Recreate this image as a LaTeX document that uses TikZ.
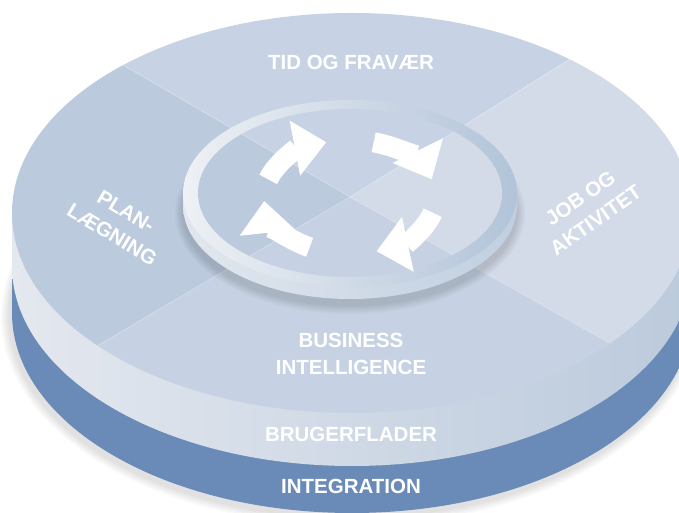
\documentclass[tikz,border=0pt]{standalone}
\usepackage{fontspec}
\setmainfont{Liberation Sans}
\usetikzlibrary{arrows.meta}
\definecolor{qtop}{HTML}{C7D3E4}
\definecolor{qleft}{HTML}{BBCADD}
\definecolor{qright}{HTML}{D3DBE8}
\definecolor{qbot}{HTML}{C6D2E3}
\definecolor{integblue}{HTML}{6A8BB8}
\definecolor{bandl}{HTML}{E4E8EF}
\definecolor{bandm}{HTML}{D3DBE6}
\definecolor{bandr}{HTML}{BBCADC}
\definecolor{riml}{HTML}{EEF1F5}
\definecolor{rimm}{HTML}{CFDAE6}
\definecolor{rimr}{HTML}{B2C4D9}
\definecolor{sidel}{HTML}{E2E7EE}
\definecolor{sider}{HTML}{C0CFE0}
% the four quadrants of the top face, meeting in (x)
\newcommand\quadfill{%
  \fill[qtop] (x) -- (-104,580) -- (784,588) -- cycle;
  \fill[qright] (x) -- (784,588) -- (858,30) -- cycle;
  \fill[qbot] (x) -- (858,30) -- (-146,24) -- cycle;
  \fill[qleft] (x) -- (-146,24) -- (-104,580) -- cycle;
  \draw[white,opacity=.35,line width=.6pt] (x) -- (-104,580) (x) -- (784,588)
    (x) -- (858,30) (x) -- (-146,24);}

\begin{document}
\begin{tikzpicture}[x=1pt,y=1pt,
  lbl/.style={text=white,font=\bfseries\fontsize{20.5}{27}\selectfont,align=center,inner sep=0pt},
  turn/.style={white,line width=20pt,-{Triangle[width=54pt,length=32pt]}}]
  \useasboundingbox (0,0) rectangle (679,513);
  \coordinate (x) at (350,316);
  % soft shadow under the disk
  \foreach \s in {1,...,6}
    \fill[black,opacity=0.02] (350,196) ellipse ({340+\s*1.5} and {200+\s*1.5});
  % integration layer
  \fill[integblue] (12,200) -- (12,247) -- (692,247) -- (692,200)
    arc[start angle=0,end angle=-180,x radius=340,y radius=200] -- cycle;
  % brugerflader layer
  \shade[left color=bandl,middle color=bandm,right color=bandr] (12,247) -- (12,300) -- (692,300) -- (692,247)
    arc[start angle=0,end angle=-180,x radius=340,y radius=200] -- cycle;
  % top face
  \begin{scope}
    \clip (352,300) ellipse (340 and 200);
    \quadfill
  \end{scope}
  % raised centre
  \foreach \s in {1,...,6}
    \fill[black,opacity=0.025] (350,300) ellipse ({166+\s*1.5} and {92+\s*1.5});
  \shade[left color=sidel,right color=sider] (183,307.5) -- (183,319.5) -- (517,319.5) -- (517,307.5)
    arc[start angle=0,end angle=-180,x radius=167,y radius=93.5] -- cycle;
  \shade[left color=riml,middle color=rimm,right color=rimr] (350,319.5) ellipse (167 and 93.5);
  \begin{scope}
    \clip (350,320) ellipse (152 and 84);
    \quadfill
  \end{scope}
  % arrows
  \foreach \a/\b in {162/106, 74/18, -16/-72, -118/-176}
    \draw[turn] (x) ++(\a:86 and 57) arc[start angle=\a,end angle=\b,x radius=86,y radius=57];
  % labels
  \node[lbl] (tid) at (351,451) {TID OG FRAVÆR};
  \node[lbl,rotate=-31] (plan) at (119,290) {PLAN-\\LÆGNING};
  \node[lbl,rotate=35] (job) at (588,304) {JOB OG\\AKTIVITET};
  \node[lbl] (bi) at (351,159.5) {BUSINESS\\INTELLIGENCE};
  \node[lbl] (bruger) at (351,79) {BRUGERFLADER};
  \node[lbl] (integ) at (351,26.5) {INTEGRATION};
\end{tikzpicture}
\end{document}
